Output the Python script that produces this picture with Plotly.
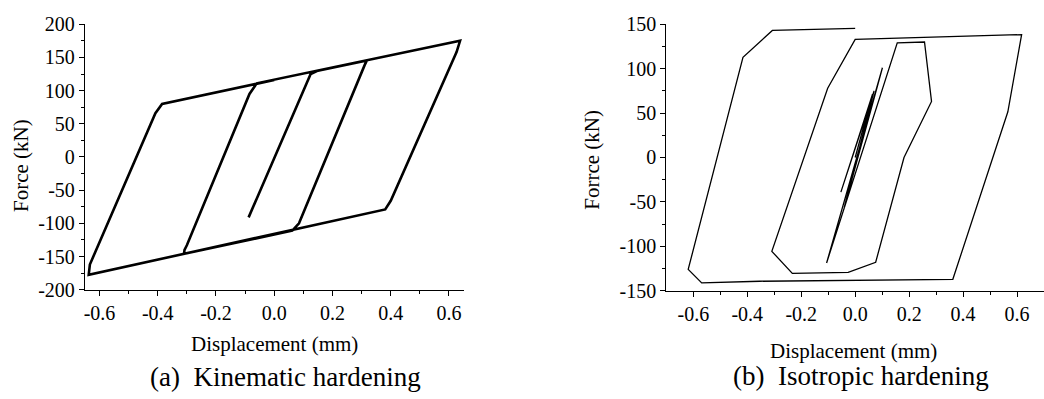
import numpy as np
import plotly.graph_objects as go

# ---------------- data ----------------
# (a) Kinematic hardening: displacement (mm) / force (kN) path
kin_disp = [-0.088, 0.115, 0.125, 0.150, 0.318, 0.310, 0.085, 0.062, -0.310, -0.308,
            -0.300, -0.085, -0.060, 0.638, 0.626, 0.400, 0.381, -0.637, -0.636, -0.633,
            -0.408, -0.385, 0.000]
kin_force = [-91, 117, 125, 130, 145.5, 138, -100, -111, -146, -140,
             -133, 95, 111, 175, 158, -66, -79, -177.6, -170, -162,
             66, 80, 116]

# (b) Isotropic hardening: displacement (mm) / force (kN) path
iso_disp = [0.0, 0.064, -0.053, 0.070, -0.041, 0.101, -0.106, 0.156, 0.257, 0.283,
            0.181, 0.076, -0.026, -0.233, -0.309, -0.102, 0.0, 0.617, 0.566, 0.362,
            -0.354, -0.569, -0.619, -0.416, -0.307, 0.0]
iso_force = [0, 71, -39, 75, -56.7, 101, -118.8, 129, 130, 63,
             0, -118, -129.4, -130.5, -105.7, 78, 133, 138.3, 51.4, -137.2,
             -139.4, -141.2, -126, 112.8, 143, 145.4]

x_tickvals = [-0.6, -0.4, -0.2, 0.0, 0.2, 0.4, 0.6]
x_ticktext = ["-0.6", "-0.4", "-0.2", "0.0", "0.2", "0.4", "0.6"]
x_minor = [-0.5, -0.3, -0.1, 0.1, 0.3, 0.5]

ya_tickvals = [-200, -150, -100, -50, 0, 50, 100, 150, 200]
ya_ticktext = ["-200", "-150", "-100", "-50", "0", "50", "100", "150", "200"]
ya_minor = [-175, -125, -75, -25, 25, 75, 125, 175]

yb_tickvals = [-150, -100, -50, 0, 50, 100, 150]
yb_ticktext = ["-150", "-100", "-50", "0", "50", "100", "150"]
yb_minor = [-125, -75, -25, 25, 75, 125]

x_title = "Displacement (mm)"
ya_title = "Force (kN)"
yb_title = "Forrce (kN)"
cap_a = "(a)\u00a0\u00a0Kinematic hardening"
cap_b = "(b)\u00a0\u00a0Isotropic hardening"

# ---------------- figure ----------------
W, H = 1044, 399
FONT = "Times New Roman, Liberation Serif, serif"

fig = go.Figure()
fig.add_trace(go.Scatter(x=kin_disp, y=kin_force, mode="lines",
                         line=dict(color="black", width=2.6), xaxis="x", yaxis="y",
                         showlegend=False))
fig.add_trace(go.Scatter(x=iso_disp, y=iso_force, mode="lines",
                         line=dict(color="black", width=1.3), xaxis="x2", yaxis="y2",
                         showlegend=False))


def axis(domain, rng, tv, tt, minor):
    return dict(domain=domain, range=rng, showline=True, linecolor="black", linewidth=1.2,
                ticks="outside", ticklen=5, tickwidth=1.1, tickcolor="black",
                tickmode="array", tickvals=tv, ticktext=tt,
                minor=dict(ticks="outside", ticklen=3, tickwidth=1, tickcolor="black",
                           tickmode="array", tickvals=minor, showgrid=False),
                tickfont=dict(family=FONT, size=20, color="black"),
                showgrid=False, zeroline=False, mirror=False, fixedrange=True)


def px(xp):
    return xp / W


def py(yp):
    return (H - yp) / H


fig.update_layout(
    width=W, height=H, margin=dict(l=0, r=0, t=0, b=0),
    paper_bgcolor="white", plot_bgcolor="white",
    font=dict(family=FONT, color="black"),
    xaxis=axis([px(84), px(463)], [-0.65, 0.65], x_tickvals, x_ticktext, x_minor),
    yaxis=axis([py(295), py(14)], [-200, 200], ya_tickvals, ya_ticktext, ya_minor),
    xaxis2=axis([px(666), 1.0], [-0.7, 0.7], x_tickvals, x_ticktext, x_minor),
    yaxis2=axis([py(296), py(14)], [-150, 150], yb_tickvals, yb_ticktext, yb_minor),
)
fig.layout.xaxis2.anchor = "y2"
fig.layout.yaxis2.anchor = "x2"

ann = [
    dict(text=x_title, x=px(274), y=py(352), size=21, angle=0),
    dict(text=x_title, x=px(853), y=py(360), size=21, angle=0),
    dict(text=ya_title, x=px(20), y=py(163), size=21, angle=-90),
    dict(text=yb_title, x=px(592), y=py(157), size=21, angle=-90),
    dict(text=cap_a, x=px(285), y=py(387), size=27, angle=0),
    dict(text=cap_b, x=px(861), y=py(386), size=27, angle=0),
]
for a in ann:
    fig.add_annotation(text=a["text"], x=a["x"], y=a["y"], xref="paper", yref="paper",
                       xanchor="center", yanchor="middle", showarrow=False,
                       textangle=a["angle"],
                       font=dict(family=FONT, size=a["size"], color="black"))

fig.write_html("out.html")
